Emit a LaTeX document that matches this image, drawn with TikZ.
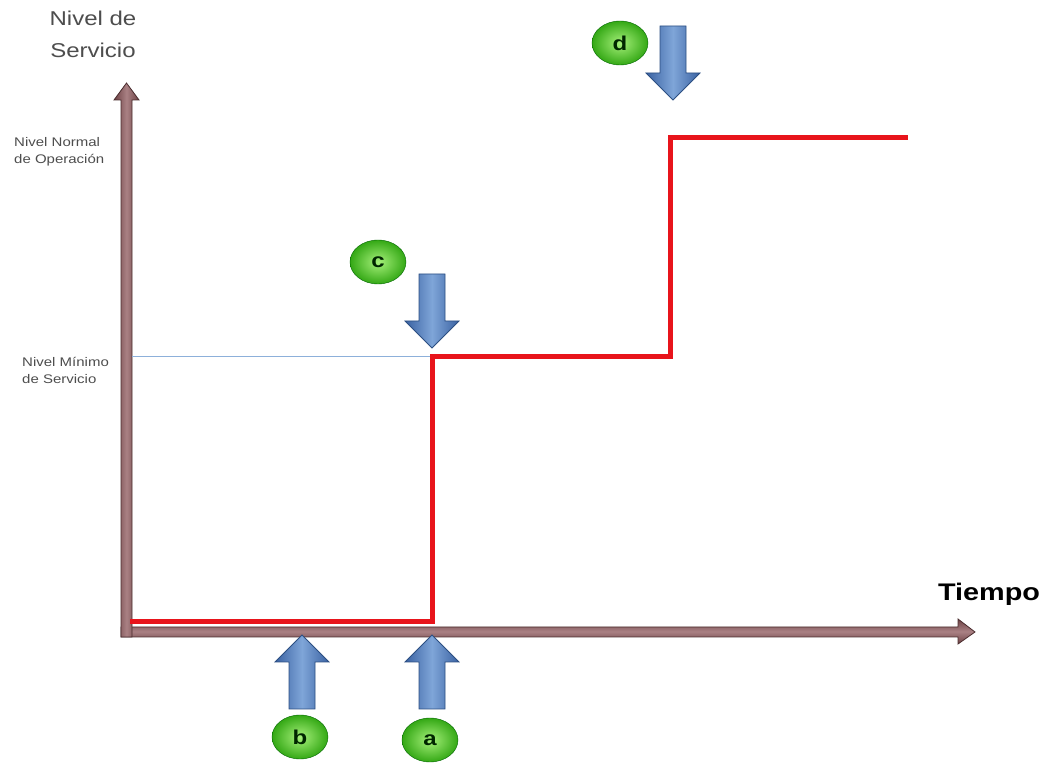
\documentclass[tikz,border=0pt]{standalone}
\usepackage{fontspec}
\setmainfont{Liberation Sans}[FakeStretch=1.2]
\usetikzlibrary{shapes.geometric}
\definecolor{axisedge}{HTML}{4A2C2E}
\definecolor{axisdark}{HTML}{6E4245}
\definecolor{axislight}{HTML}{A98184}
\definecolor{stepred}{HTML}{E8141B}
\definecolor{guideblue}{HTML}{8DB0DA}
\definecolor{arrowedge}{HTML}{2C4F82}
\definecolor{arrowdark}{HTML}{3A62A2}
\definecolor{arrowlight}{HTML}{7FA5D8}
\definecolor{ballinner}{HTML}{A6F07A}
\definecolor{ballouter}{HTML}{34A815}
\definecolor{labelgray}{HTML}{4D4D4D}
\tikzset{
  axisbar/.style={draw=axisedge,line width=.8pt},
  level/.style={draw=stepred,line width=5pt,line join=miter},
  guide/.style={draw=guideblue,line width=1pt},
  pointer body/.style={draw=arrowedge,line width=.8pt,left color=arrowdark,right color=arrowdark,middle color=arrowlight},
  pointer/.pic={
    \path[pointer body] (0,0) -- (27,-27) -- (13,-27) -- (13,-74) -- (-13,-74) -- (-13,-27) -- (-27,-27) -- cycle;
  },
  event/.style={ellipse,minimum width=56pt,minimum height=44pt,inner sep=0pt,draw=green!40!black,line width=.4pt,
    inner color=ballinner,outer color=ballouter,text=green!15!black,font=\fontsize{20}{20}\selectfont\bfseries},
  title/.style={text=labelgray,align=center,font=\fontsize{20}{32}\selectfont},
  levelname/.style={text=labelgray,align=left,anchor=west,inner sep=0pt,font=\fontsize{12.5}{17}\selectfont}
}
\begin{document}
\begin{tikzpicture}[x=1pt,y=1pt]
  \useasboundingbox (0,0) rectangle (1045,769);

  % axes
  \path[axisbar,top color=axisdark,bottom color=axisdark,middle color=axislight]
    (121,132) -- (958,132) -- (958,125) -- (975,137) -- (958,150) -- (958,142) -- (121,142) -- cycle;
  \path[axisbar,left color=axisdark,right color=axisdark,middle color=axislight]
    (121,132) -- (132,132) -- (132,669) -- (139,669) -- (126.5,686) -- (114,669) -- (121,669) -- cycle;
  \node[title] (ytitle) at (93,735) {Nivel de\\Servicio};
  \node[title,text=black,font=\fontsize{24}{24}\selectfont\bfseries] (xtitle) at (989,175) {Tiempo};

  % service levels
  \node[levelname] (normal) at (14,617) {Nivel Normal\\de Operación};
  \node[levelname] (minimum) at (22,399) {Nivel Mínimo\\de Servicio};
  \coordinate (start) at (130,147);
  \coordinate (rise1) at (432,147);
  \coordinate (step1) at (432,412);
  \coordinate (rise2) at (670,412);
  \coordinate (step2) at (670,631);
  \coordinate (stop) at (908,631);
  \draw[guide] (132,412) -- (step1);
  \draw[level] (start) -- (rise1) -- (step1) -- (rise2) -- (step2) -- (stop);

  % events
  \pic at (302,134) {pointer};
  \pic at (432,134) {pointer};
  \pic[rotate=180] at (432,421) {pointer};
  \pic[rotate=180] at (673,669) {pointer};
  \node[event] (b) at (300,32) {b};
  \node[event] (a) at (430,29) {a};
  \node[event] (c) at (378,507) {c};
  \node[event] (d) at (620,726) {d};
\end{tikzpicture}
\end{document}
